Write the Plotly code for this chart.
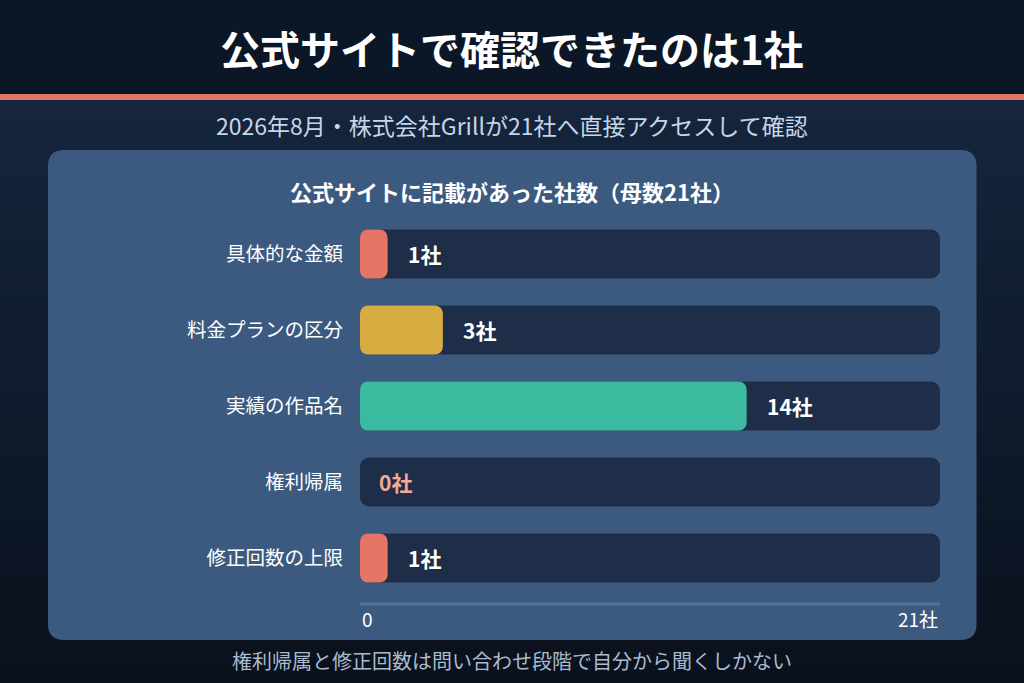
import plotly.graph_objects as go

W, H = 1024, 683

categories = ["具体的な金額", "料金プランの区分", "実績の作品名", "権利帰属", "修正回数の上限"]
values = [1, 3, 14, 0, 1]
total = 21
bar_colors = ["#e57565", "#d9ac42", "#3bbaa0", "#e57565", "#e57565"]
value_labels = ["1社", "3社", "14社", "0社", "1社"]
axis_labels = ["0", "21社"]

title = "公式サイトで確認できたのは1社"
subtitle = "2026年8月・株式会社Grillが21社へ直接アクセスして確認"
panel_title = "公式サイトに記載があった社数（母数21社）"
footer = "権利帰属と修正回数は問い合わせ段階で自分から聞くしかない"

FONT = "Noto Sans CJK JP"

def px(x):
    return x / W

def py(y):
    return 1 - y / H

def hexlerp(c1, c2, t):
    a = [int(c1[i:i + 2], 16) for i in (1, 3, 5)]
    b = [int(c2[i:i + 2], 16) for i in (1, 3, 5)]
    c = [round(a[k] + (b[k] - a[k]) * t) for k in range(3)]
    return "#%02x%02x%02x" % tuple(c)

shapes = []
shapes.append(dict(type="rect", xref="paper", yref="paper", x0=0, x1=1, y0=py(94), y1=1,
                   fillcolor="#0b1627", line_width=0, layer="below"))
n = 60
y_start, y_end = 100, H
for i in range(n):
    ya = y_start + (y_end - y_start) * i / n
    yb = y_start + (y_end - y_start) * (i + 1) / n + 0.5
    shapes.append(dict(type="rect", xref="paper", yref="paper", x0=0, x1=1, y0=py(yb), y1=py(ya),
                       fillcolor=hexlerp("#15253d", "#0a111c", i / (n - 1)), line_width=0, layer="below"))
shapes.append(dict(type="rect", xref="paper", yref="paper", x0=0, x1=1, y0=py(100), y1=py(94),
                   fillcolor="#e27565", line_width=0, layer="below"))

def rounded_path(x0, y0, x1, y1, r):
    pts = [
        f"M {px(x0 + r)} {py(y0)}",
        f"L {px(x1 - r)} {py(y0)}",
        f"Q {px(x1)} {py(y0)} {px(x1)} {py(y0 + r)}",
        f"L {px(x1)} {py(y1 - r)}",
        f"Q {px(x1)} {py(y1)} {px(x1 - r)} {py(y1)}",
        f"L {px(x0 + r)} {py(y1)}",
        f"Q {px(x0)} {py(y1)} {px(x0)} {py(y1 - r)}",
        f"L {px(x0)} {py(y0 + r)}",
        f"Q {px(x0)} {py(y0)} {px(x0 + r)} {py(y0)}",
        "Z",
    ]
    return " ".join(pts)

shapes.append(dict(type="path", xref="paper", yref="paper", path=rounded_path(48, 150, 976.5, 640, 16),
                   fillcolor="#3c5a80", line_width=0, layer="below"))

shapes.append(dict(type="line", xref="x", yref="paper", x0=0, x1=total, y0=py(604), y1=py(604),
                   line=dict(color="#52709a", width=3), layer="below"))

fig = go.Figure()
fig.add_trace(go.Bar(
    y=categories, x=[total] * len(categories), base=[0] * len(categories), orientation="h",
    marker=dict(color="#1f2e48", cornerradius=9, line_width=0),
    hoverinfo="skip", showlegend=False,
))
fig.add_trace(go.Bar(
    y=categories, x=values, base=[0] * len(categories), orientation="h",
    marker=dict(color=bar_colors, cornerradius=8, line_width=0),
    hoverinfo="skip", showlegend=False,
))

annotations = []
annotations.append(dict(text=f"<b>{title}</b>", xref="paper", yref="paper", x=0.5, y=py(48),
                        showarrow=False, font=dict(family=FONT, size=40, color="#ffffff"),
                        xanchor="center", yanchor="middle"))
annotations.append(dict(text=subtitle, xref="paper", yref="paper", x=0.5, y=py(125),
                        showarrow=False, font=dict(family=FONT, size=23, color="#c5d6e8"),
                        xanchor="center", yanchor="middle"))
annotations.append(dict(text=f"<b>{panel_title}</b>", xref="paper", yref="paper", x=0.5, y=py(191),
                        showarrow=False, font=dict(family=FONT, size=22, color="#ffffff"),
                        xanchor="center", yanchor="middle"))
annotations.append(dict(text=footer, xref="paper", yref="paper", x=0.5, y=py(660),
                        showarrow=False, font=dict(family=FONT, size=20, color="#a9bacd"),
                        xanchor="center", yanchor="middle"))

for cat, v, lab in zip(categories, values, value_labels):
    annotations.append(dict(
        text=f"<b>{lab}</b>", x=v, y=cat, xref="x", yref="y", showarrow=False,
        xanchor="left", yanchor="middle", xshift=(18 if v > 0 else 17),
        font=dict(family=FONT, size=21, color=("#ffffff" if v > 0 else "#f4a896")),
    ))

annotations.append(dict(text=axis_labels[0], x=0, y=py(618), xref="x", yref="paper", showarrow=False,
                        xanchor="left", yanchor="middle", xshift=0,
                        font=dict(family=FONT, size=19, color="#ffffff")))
annotations.append(dict(text=axis_labels[1], x=total, y=py(618), xref="x", yref="paper", showarrow=False,
                        xanchor="right", yanchor="middle", xshift=0,
                        font=dict(family=FONT, size=19, color="#ffffff")))

fig.update_layout(
    width=W, height=H,
    margin=dict(l=0, r=0, t=0, b=0),
    paper_bgcolor="#0b1627", plot_bgcolor="rgba(0,0,0,0)",
    barmode="overlay", bargap=1 - 49 / 76,
    shapes=shapes, annotations=annotations,
    xaxis=dict(domain=[px(360), px(940)], range=[0, total], showgrid=False, zeroline=False,
               showticklabels=False, showline=False, fixedrange=True),
    yaxis=dict(domain=[py(596), py(216)], autorange="reversed", showgrid=False, zeroline=False,
               showline=False, ticks="", ticklabelstandoff=16,
               tickfont=dict(family=FONT, size=19.5, color="#ffffff"), fixedrange=True),
    font=dict(family=FONT),
)

fig.write_html(
    "out.html",
    config={"displayModeBar": False},
    post_script="document.body.style.margin='0';document.body.style.padding='0';document.body.style.overflow='hidden';",
)
